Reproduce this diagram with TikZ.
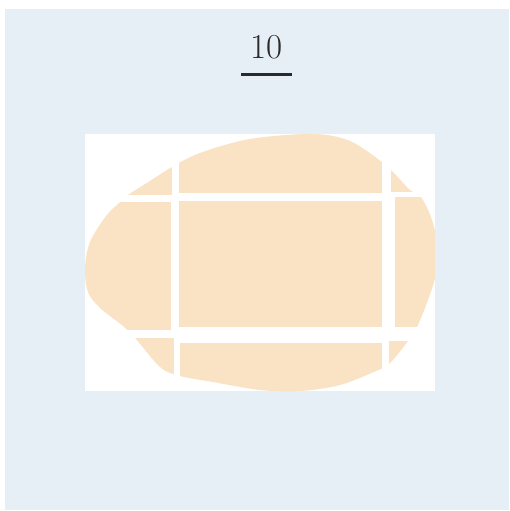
\documentclass[tikz,border=0pt]{standalone}
\usepackage{tikz}
\definecolor{bgblue}{HTML}{E7EFF6}
\definecolor{peach}{HTML}{FAE3C5}
\definecolor{ink}{HTML}{2A2A2A}
\tikzset{
  piece/.style={fill=peach, draw=none},
  numlabel/.style={font=\fontsize{35}{42}\selectfont, text=ink, inner sep=0pt, anchor=base},
}
\newcommand{\blobpath}{plot[smooth cycle, tension=0.55] coordinates {
 (313,134) (350,141) (382,162) (392,171) (410,190) (421,197) (432,220) (438,250)
 (434,282) (418,325) (408,341) (390,363) (376,371) (340,385) (300,391) (260,390)
 (213,382) (180,376) (160,367) (136,339) (123,326) (100,308) (88,292) (85,268)
 (90,242) (106,216) (118,204) (128,195) (150,181) (172,167) (200,153) (250,139)}}
\begin{document}
\begin{tikzpicture}[x=1pt,y=-1pt]
\useasboundingbox (0,0) rectangle (509,511);
\fill[bgblue] (5,9) rectangle (509,510);
\node[numlabel] (num) at (266.5,58.3) {10};
\coordinate (ul) at (241,74.3);
\coordinate (ur) at (292,74.3);
\draw[ink, line width=3.2pt] (ul) -- (ur);
\fill[white] (85,133.5) rectangle (435,391);
\begin{scope}
  \clip (85,133.5) rectangle (435,391);
  \clip \blobpath;
  % top row
  \fill[piece] (60,100) rectangle (171.7,195);
  \fill[piece] (179,100) rectangle (381.7,193);
  \fill[piece] (390.7,100) rectangle (460,191.7);
  % middle row
  \fill[piece] (60,201.7) rectangle (171,330);
  \fill[piece] (179,201) rectangle (381.7,327);
  \fill[piece] (395,196.7) rectangle (460,326.7);
  % bottom row
  \fill[piece] (60,338) rectangle (174.3,420);
  \fill[piece] (180,343) rectangle (381.7,420);
  \fill[piece] (389.3,340.7) rectangle (460,420);
\end{scope}
\end{tikzpicture}
\end{document}
